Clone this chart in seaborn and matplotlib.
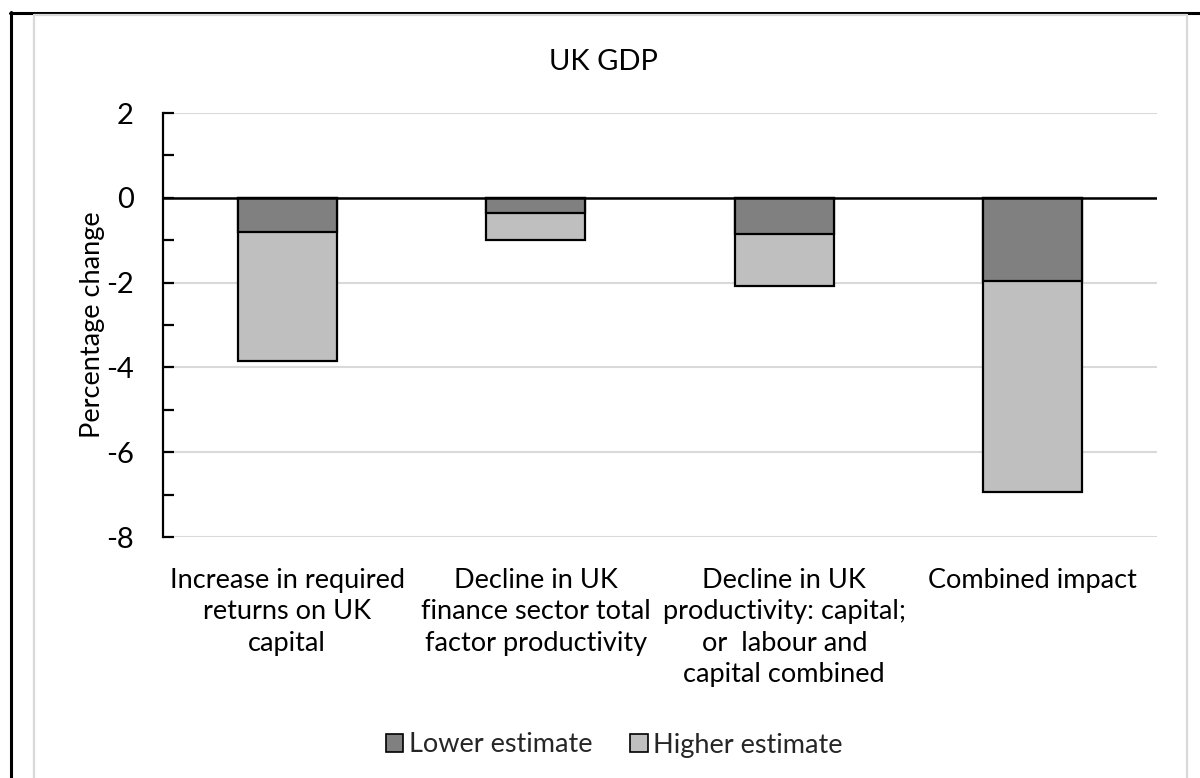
import matplotlib
matplotlib.use("Agg")
import matplotlib.pyplot as plt
from matplotlib.lines import Line2D
from matplotlib.patches import Patch
from matplotlib.ticker import MultipleLocator
import pandas as pd
import seaborn as sns

# Scenario categories and GDP impact (percentage change)
categories = [
    "Increase in required\nreturns on UK\ncapital",
    "Decline in UK\nfinance sector total\nfactor productivity",
    "Decline in UK\nproductivity: capital;\nor  labour and\ncapital combined",
    "Combined impact",
]
lower_estimate = [-0.80, -0.35, -0.85, -1.97]
higher_estimate = [-3.85, -1.00, -2.08, -6.95]

df = pd.DataFrame({"category": categories,
                   "lower": lower_estimate,
                   "higher": higher_estimate})

sns.set_theme(style="white")
plt.rcParams["font.family"] = ["Lato", "DejaVu Sans"]
plt.rcParams["axes.unicode_minus"] = False

W, H = 1200, 778
fig = plt.figure(figsize=(12, 7.78), dpi=100)
ax = fig.add_axes([163 / W, 1 - 537 / H, (1157 - 163) / W, (537 - 113) / H])

DARK = "#808080"
LIGHT = "#bfbfbf"
FS = 19.5

# higher estimate spans the full bar, lower estimate overlays the top segment
sns.barplot(data=df, x="category", y="higher", color=LIGHT, width=0.4,
            edgecolor="black", linewidth=1.6, saturation=1, ax=ax, zorder=3)
sns.barplot(data=df, x="category", y="lower", color=DARK, width=0.4,
            edgecolor="black", linewidth=1.6, saturation=1, ax=ax, zorder=4)

ax.set_ylim(-8, 2)
ax.set_xlim(-0.5, len(categories) - 0.5)
ax.yaxis.set_major_locator(MultipleLocator(2))
ax.yaxis.set_minor_locator(MultipleLocator(1))
ax.grid(axis="y", which="major", color="#d9d9d9", linewidth=1.5, zorder=0)
ax.axhline(0, color="black", linewidth=1.8, zorder=5)

for side in ("top", "right", "bottom"):
    ax.spines[side].set_visible(False)
ax.spines["left"].set_color("black")
ax.spines["left"].set_linewidth(1.6)

ax.tick_params(axis="y", which="both", direction="in", left=True,
               length=8, width=1.6, color="black", pad=21,
               labelsize=FS + 1.5, labelcolor="black")
ax.tick_params(axis="x", bottom=False, pad=16, labelsize=FS,
               labelcolor="black")
for lbl in ax.get_xticklabels():
    lbl.set_linespacing(1.33)
    lbl.set_verticalalignment("top")

ax.set_xlabel("")
ax.set_ylabel("Percentage change", fontsize=FS, color="black", labelpad=1)

fig.text(603 / W, 1 - 62 / H, "UK GDP", ha="center", va="center",
         fontsize=FS + 1.5, color="black")

handles = [Patch(facecolor=DARK, edgecolor="black", linewidth=1.2,
                 label="Lower estimate"),
           Patch(facecolor=LIGHT, edgecolor="black", linewidth=1.2,
                 label="Higher estimate")]
fig.legend(handles=handles, loc="center", bbox_to_anchor=(614 / W, 1 - 745 / H),
           ncol=2, frameon=False, fontsize=FS, handlelength=0.65,
           handleheight=0.65, handletextpad=0.2, columnspacing=1.4)

# Outer frames
def fline(x0, y0, x1, y1, color, lw):
    fig.add_artist(Line2D([x0 / W, x1 / W], [1 - y0 / H, 1 - y1 / H],
                          color=color, linewidth=lw, transform=fig.transFigure))

fline(10, 12.7, 1200, 12.7, "black", 2.2)
fline(11, 12, 11, 778, "black", 2.2)
fline(34, 14.7, 1187, 14.7, "#d9d9d9", 1.6)
fline(34, 14.7, 34, 778, "#d9d9d9", 1.6)
fline(1187, 14.7, 1187, 778, "#d9d9d9", 1.6)

fig.savefig("out.png", dpi=100)
